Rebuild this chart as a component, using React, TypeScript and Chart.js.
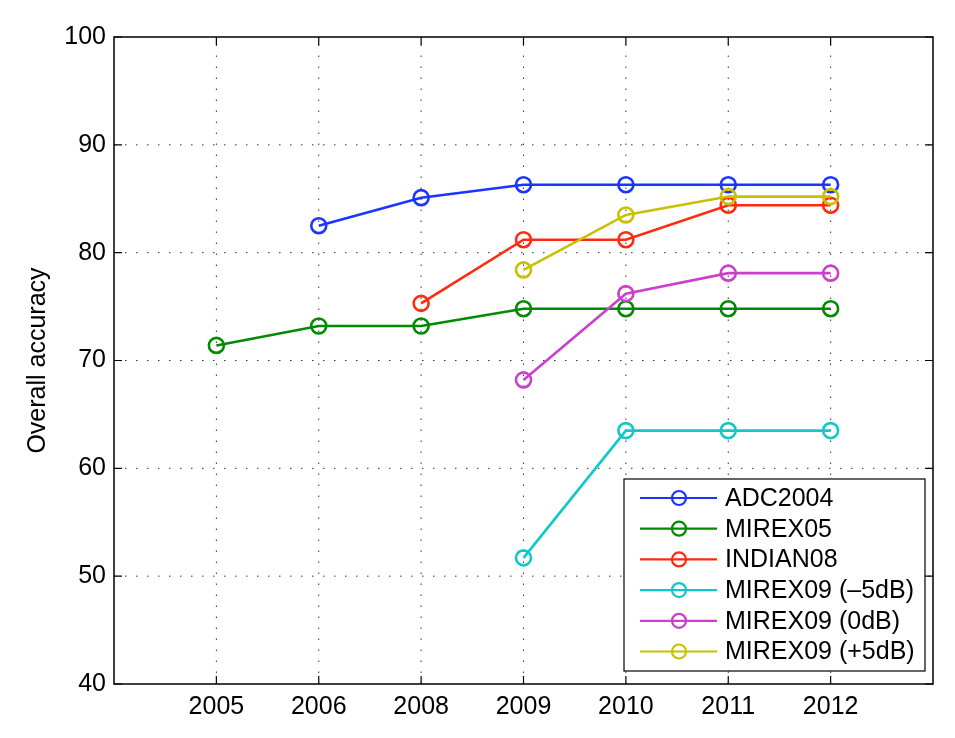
import React, { useEffect, useRef } from "react";
import { Chart, registerables } from "chart.js";

Chart.register(...registerables);

const years = ["2005", "2006", "2008", "2009", "2010", "2011", "2012"];
const yTicks = [40, 50, 60, 70, 80, 90, 100];

const adc2004 = [null, 82.5, 85.1, 86.3, 86.3, 86.3, 86.3];
const mirex05 = [71.4, 73.2, 73.2, 74.8, 74.8, 74.8, 74.8];
const indian08 = [null, null, 75.3, 81.2, 81.2, 84.4, 84.4];
const mirex09m5 = [null, null, null, 51.7, 63.5, 63.5, 63.5];
const mirex09z = [null, null, null, 68.2, 76.2, 78.1, 78.1];
const mirex09p5 = [null, null, null, 78.4, 83.5, 85.2, 85.2];

const seriesNames = ["ADC2004", "MIREX05", "INDIAN08", "MIREX09 (\u20135dB)", "MIREX09 (0dB)", "MIREX09 (+5dB)"];
const seriesValues = [adc2004, mirex05, indian08, mirex09m5, mirex09z, mirex09p5];
const seriesColors = ["#1a35ff", "#008a00", "#ff2a10", "#10c8c8", "#cc3fcc", "#c8c000"];

const FONT = "'Liberation Sans', Arial, Helvetica, sans-serif";
const FS = 25;

const framePlugin = {
  id: "matlabFrame",
  beforeDatasetsDraw(chart: any) {
    const { ctx, chartArea: a, scales } = chart;
    ctx.save();
    ctx.strokeStyle = "#333";
    ctx.lineWidth = 1;
    ctx.setLineDash([1.5, 9.5]);
    years.forEach((_, i) => {
      const x = scales.x.getPixelForValue(i + 1);
      ctx.beginPath();
      ctx.moveTo(x, a.bottom);
      ctx.lineTo(x, a.top);
      ctx.stroke();
    });
    yTicks.forEach((v) => {
      if (v === 40 || v === 100) return;
      const y = scales.y.getPixelForValue(v);
      ctx.beginPath();
      ctx.moveTo(a.left, y);
      ctx.lineTo(a.right, y);
      ctx.stroke();
    });
    ctx.restore();
  },
  afterDraw(chart: any) {
    const { ctx, chartArea: a, scales } = chart;
    ctx.save();
    ctx.setLineDash([]);
    ctx.strokeStyle = "#000";
    ctx.lineWidth = 1.5;
    ctx.strokeRect(a.left, a.top, a.right - a.left, a.bottom - a.top);
    const tl = 8;
    ctx.lineWidth = 1.2;
    ctx.beginPath();
    years.forEach((_, i) => {
      const x = scales.x.getPixelForValue(i + 1);
      ctx.moveTo(x, a.bottom);
      ctx.lineTo(x, a.bottom - tl);
      ctx.moveTo(x, a.top);
      ctx.lineTo(x, a.top + tl);
    });
    yTicks.forEach((v) => {
      const y = scales.y.getPixelForValue(v);
      ctx.moveTo(a.left, y);
      ctx.lineTo(a.left + tl, y);
      ctx.moveTo(a.right, y);
      ctx.lineTo(a.right - tl, y);
    });
    ctx.stroke();

    // legend
    const ds = chart.data.datasets;
    const w = 301;
    const rowH = 30.7;
    const h = 192;
    const right = a.right - 8;
    const bottom = a.bottom - 13;
    const left = right - w;
    const top = bottom - h;
    ctx.fillStyle = "#fff";
    ctx.fillRect(left, top, w, h);
    ctx.strokeStyle = "#000";
    ctx.lineWidth = 1.2;
    ctx.strokeRect(left, top, w, h);
    ctx.font = `${FS}px ${FONT}`;
    ctx.textBaseline = "middle";
    ctx.textAlign = "left";
    ds.forEach((d: any, i: number) => {
      const cy = top + 19 + i * rowH;
      ctx.strokeStyle = d.borderColor;
      ctx.lineWidth = 2.2;
      ctx.beginPath();
      ctx.moveTo(left + 16, cy);
      ctx.lineTo(left + 93, cy);
      ctx.stroke();
      ctx.beginPath();
      ctx.arc(left + 55, cy, 7, 0, Math.PI * 2);
      ctx.stroke();
      ctx.fillStyle = "#000";
      ctx.fillText(d.label, left + 101, cy + 1);
    });
    ctx.restore();
  },
};

export default function App() {
  const ref = useRef<HTMLCanvasElement | null>(null);
  useEffect(() => {
    if (!ref.current) return;
    const chart = new Chart(ref.current, {
      type: "line",
      data: {
        datasets: seriesNames.map((name, i) => ({
          label: name,
          data: seriesValues[i].map((v, j) => ({ x: j + 1, y: v })),
          borderColor: seriesColors[i],
          backgroundColor: "rgba(0,0,0,0)",
          pointBackgroundColor: "rgba(0,0,0,0)",
          pointBorderColor: seriesColors[i],
          pointRadius: 7.5,
          pointBorderWidth: 2.6,
          borderWidth: 2.6,
          tension: 0,
          spanGaps: false,
          order: seriesNames.length - i,
        })),
      },
      options: {
        animation: false,
        responsive: false,
        layout: { padding: { top: 37, right: 22, left: 0, bottom: 0 } },
        plugins: {
          legend: { display: false },
          tooltip: { enabled: false },
        },
        scales: {
          x: {
            type: "linear",
            min: 0,
            max: 8,
            grid: { display: false, drawTicks: false },
            border: { display: false },
            ticks: {
              stepSize: 1,
              autoSkip: false,
              padding: 8,
              color: "#000",
              font: { family: FONT, size: FS },
              maxRotation: 0,
              callback: (v: any) => years[Number(v) - 1] ?? "",
            },
            afterFit: (s: any) => {
              s.height = 54;
            },
          },
          y: {
            type: "linear",
            min: 40,
            max: 100,
            grid: { display: false, drawTicks: false },
            border: { display: false },
            ticks: {
              stepSize: 10,
              padding: 8,
              color: "#000",
              font: { family: FONT, size: FS },
            },
            title: {
              display: true,
              text: "Overall accuracy",
              color: "#000",
              font: { family: FONT, size: FS },
              padding: { top: 23, bottom: 0 },
            },
            afterFit: (s: any) => {
              s.width = 114;
            },
          },
        },
      },
      plugins: [framePlugin],
    });
    return () => chart.destroy();
  }, []);
  return (
    <div style={{ position: "absolute", left: 0, top: 0, width: 955, height: 738, background: "#fff" }}>
      <canvas ref={ref} width={955} height={738} />
    </div>
  );
}
